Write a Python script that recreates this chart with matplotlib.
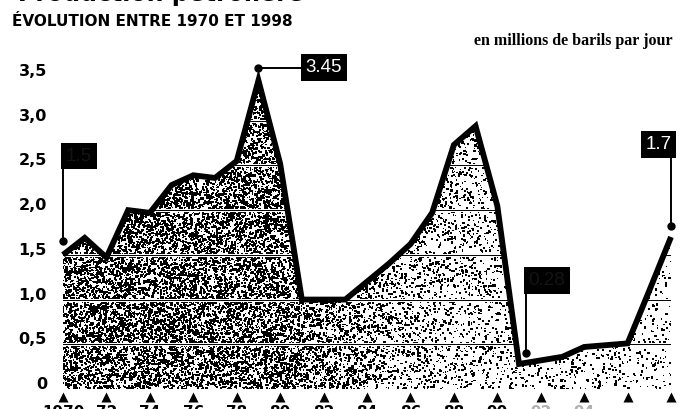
import numpy as np
import matplotlib.pyplot as plt
from matplotlib.patches import Polygon

# production en millions de barils par jour
annees = list(range(1970, 1999))
production = [1.5, 1.69, 1.47, 2.0, 1.97, 2.28, 2.39, 2.36, 2.55, 3.45,
              2.52, 1.0, 1.0, 1.0, 1.2, 1.4, 1.62, 1.97, 2.73, 2.94,
              2.05, 0.28, 0.32, 0.36, 0.47, 0.49, 0.51, 1.1, 1.7]

yticks = [0, 0.5, 1.0, 1.5, 2.0, 2.5, 3.0, 3.5]
ylabels = ['0', '0,5', '1,0', '1,5', '2,0', '2,5', '3,0', '3,5']
xticks = list(range(1970, 1999, 2))
xlabels = ['1970', '72', '74', '76', '78', '80', '82', '84', '86', '88',
           '90', '92', '94', '', '']

# annees annotees : (annee, texte, couleur du texte)
reperes = [(1970, '1.5', '#141414'),
           (1979, '3.45', 'white'),
           (1991, '0.28', '#141414'),
           (1998, '1.7', 'white')]

fig = plt.figure(figsize=(6.81, 4.09), dpi=100)
ax = fig.add_axes([63/681, 20/409, 608/681, 313/409])
ax.set_xlim(1970, 1998)
ax.set_ylim(0, 3.5)
ax.patch.set_visible(False)
for s in ax.spines.values():
    s.set_visible(False)

# surface blanche sous la courbe
verts = [(1970, 0)] + list(zip(annees, production)) + [(1998, 0)]
zone = Polygon(verts, closed=True, facecolor='white', edgecolor='none', zorder=1)
ax.add_patch(zone)

# pointille, plus serre a gauche
rng = np.random.default_rng(7)
n = 52000
px = rng.uniform(1970, 1998, n)
py = rng.uniform(0, 3.5, n)
dens = np.interp(px, [1970, 1980, 1983, 1986, 1990, 1998],
                 [1.0, 0.9, 0.65, 0.35, 0.22, 0.13])
ok = (rng.random(n) < dens) & (py < np.interp(px, annees, production))
tailles = rng.choice([0.8, 1.6, 2.6], size=ok.sum())
pts = ax.scatter(px[ok], py[ok], s=tailles, marker='s', color='black',
                 linewidths=0, zorder=2)
pts.set_clip_path(zone)

for g in yticks[1:-1]:
    l1 = ax.axhline(g, color='white', lw=2.2, zorder=3)
    l1.set_clip_path(zone)
    l2 = ax.axhline(g, color='black', lw=0.7, zorder=3)
    l2.set_clip_path(zone)

ax.plot(annees, production, color='black', lw=4.2, solid_joinstyle='miter',
        solid_capstyle='butt', zorder=4, clip_on=False)

# axes
ax.set_yticks(yticks, ylabels)
ax.set_xticks(xticks, xlabels)
ax.tick_params(length=0)
ax.tick_params(axis='y', pad=11.5, labelsize=11.5)
ax.tick_params(axis='x', pad=11.5, labelsize=11)
for lbl in ax.get_yticklabels():
    lbl.set_fontweight('heavy')
    lbl.set_va('baseline')
for i, lbl in enumerate(ax.get_xticklabels()):
    lbl.set_fontweight('bold')
    if xticks[i] >= 1992:
        lbl.set_color('#b0b0b0')
ax.scatter(xticks, [-0.027]*len(xticks), transform=ax.get_xaxis_transform(),
           marker='^', s=52, color='black', linewidths=0, clip_on=False)

# reperes
boite = dict(boxstyle='square,pad=0.25', facecolor='black', edgecolor='none')
for an, txt, coul in reperes:
    v = production[annees.index(an)]
    if an == 1979:
        xd, yd = an, v + 0.145
        ax.plot([xd, xd + 1.94], [yd, yd], color='black', lw=1.4, zorder=5, clip_on=False)
        ax.annotate(txt, (xd + 1.94, yd), xytext=(3.5, 0), textcoords='offset points',
                    ha='left', va='center', color=coul, fontsize=13.5,
                    family='Liberation Sans', bbox=boite, zorder=6,
                    annotation_clip=False)
    else:
        if an == 1970:
            xd, yd, haut, ha, dx = an, v + 0.16, 0.8, 'left', 2
        elif an == 1991:
            xd, yd, haut, ha, dx = an + 0.3, v + 0.12, 0.67, 'left', 2
        else:
            xd, yd, haut, ha, dx = an, v + 0.12, 0.77, 'right', 0.5
        ax.plot([xd, xd], [yd, yd + haut], color='black', lw=1.4, zorder=5, clip_on=False)
        ax.annotate(txt, (xd, yd + haut), xytext=(dx, 3.2), textcoords='offset points',
                    ha=ha, va='bottom', color=coul, fontsize=13.5,
                    family='Liberation Sans', bbox=boite, zorder=6,
                    annotation_clip=False)
    ax.plot([xd], [yd], 'o', color='black', markersize=5, zorder=6, clip_on=False)

# titres
fig.text(18/681, 1 - 1.5/409, 'Production pétrolière', va='baseline',
         fontsize=17, fontweight='bold')
fig.text(12/681, 1 - 21/409, 'ÉVOLUTION ENTRE 1970 ET 1998', va='center',
         fontsize=11, fontweight='bold')
fig.text(673/681, 1 - 41/409, 'en millions de barils par jour', ha='right',
         va='center', fontsize=11.5, fontweight='bold', family='Liberation Serif')

plt.savefig('out.png', dpi=100)
